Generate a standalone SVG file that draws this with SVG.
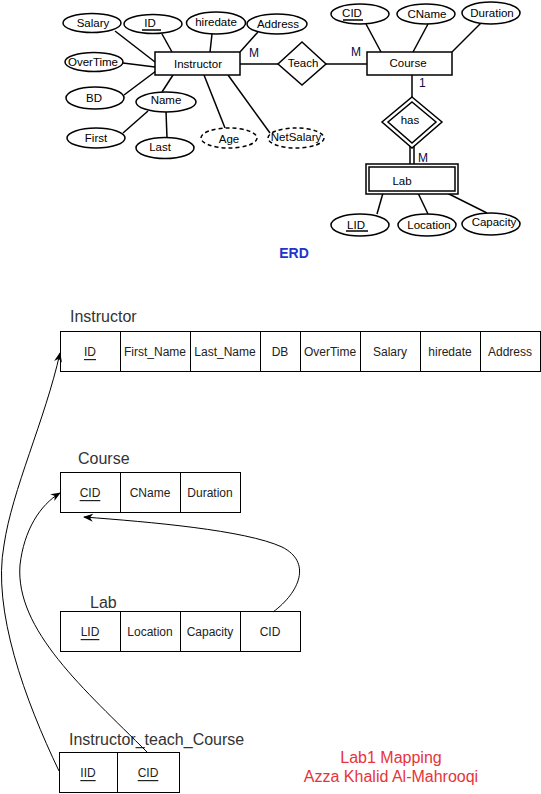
<svg xmlns="http://www.w3.org/2000/svg" width="541" height="794" viewBox="0 0 541 794">
<style>
.e{fill:#fff;stroke:#000;stroke-width:1.5}
.d{fill:#fff;stroke:#000;stroke-width:1.5;stroke-dasharray:4 3}
.l{stroke:#000;stroke-width:1.5;fill:none}
.t{font-family:"Liberation Sans",Arial,sans-serif;font-size:11.5px;fill:#000;text-anchor:middle;dominant-baseline:central}
.card{font-family:"Liberation Sans",Arial,sans-serif;font-size:12px;fill:#0a0a40}
.cell{fill:#fff;stroke:#000;stroke-width:1}
.ct{font-family:"Liberation Sans",Arial,sans-serif;font-size:12px;fill:#222;text-anchor:middle;dominant-baseline:central}
.u{text-decoration:underline}
.title{font-family:"Liberation Sans",Arial,sans-serif;font-size:16px;fill:#333}
.c{stroke:#000;stroke-width:1;fill:none}
.red{font-family:"Liberation Sans",Arial,sans-serif;font-size:16px;fill:#e8333a;text-anchor:middle}
</style>
<defs>
<marker id="arr" markerWidth="10" markerHeight="10" refX="9" refY="5" orient="auto" markerUnits="userSpaceOnUse">
<path d="M0,1 L10,5 L0,9 L3,5 z" fill="#000"/>
</marker>
</defs>

<g id="erd-lines">
<line class="l" x1="115" y1="31" x2="155" y2="62"/>
<line class="l" x1="162" y1="34" x2="172" y2="52"/>
<line class="l" x1="212" y1="34" x2="210" y2="52"/>
<line class="l" x1="258" y1="32" x2="240" y2="52"/>
<line class="l" x1="123" y1="63" x2="155" y2="67"/>
<line class="l" x1="124" y1="95" x2="156" y2="71"/>
<line class="l" x1="162" y1="92" x2="173" y2="75"/>
<line class="l" x1="148" y1="111" x2="123" y2="133"/>
<line class="l" x1="166" y1="111" x2="167" y2="138"/>
<line class="l" x1="204" y1="75" x2="225" y2="128"/>
<line class="l" x1="228" y1="75" x2="270" y2="133"/>
<line class="l" x1="240" y1="64" x2="278" y2="64"/>
<line class="l" x1="326" y1="64" x2="367" y2="64"/>
<line class="l" x1="366" y1="24" x2="381" y2="52"/>
<line class="l" x1="428" y1="24" x2="413" y2="52"/>
<line class="l" x1="481" y1="23" x2="452" y2="52"/>
<line class="l" x1="412" y1="75" x2="412" y2="97"/>
<line class="l" x1="410" y1="146" x2="410" y2="165"/>
<line class="l" x1="414" y1="146" x2="414" y2="165"/>
<line class="l" x1="383" y1="193" x2="377" y2="214"/>
<line class="l" x1="418" y1="193" x2="428" y2="214"/>
<line class="l" x1="447" y1="193" x2="487" y2="213"/>
</g>

<g id="Instructor-entity"><rect class="e" x="155" y="52" width="85" height="23"/><text class="t" x="198" y="64">Instructor</text></g>
<g id="Salary-attr"><ellipse class="e" cx="92" cy="23" rx="29" ry="9.5"/><text class="t" x="93" y="23">Salary</text></g>
<g id="ID-attr"><ellipse class="e" cx="153" cy="24" rx="29" ry="9.5"/><text class="t" x="150" y="23">ID</text><line class="l" x1="142" y1="30" x2="161" y2="30"/></g>
<g id="hiredate-attr"><ellipse class="e" cx="216" cy="23" rx="29.5" ry="11"/><text class="t" x="216" y="22">hiredate</text></g>
<g id="Address-attr"><ellipse class="e" cx="277" cy="24" rx="30" ry="10"/><text class="t" x="278" y="24">Address</text></g>
<g id="OverTime-attr"><ellipse class="e" cx="94" cy="62" rx="29" ry="9.5"/><text class="t" x="93" y="62">OverTime</text></g>
<g id="BD-attr"><ellipse class="e" cx="95" cy="98" rx="29" ry="11"/><text class="t" x="94" y="98">BD</text></g>
<g id="Name-attr"><ellipse class="e" cx="166" cy="102" rx="30" ry="10"/><text class="t" x="166" y="100">Name</text></g>
<g id="First-attr"><ellipse class="e" cx="96" cy="138" rx="29" ry="10"/><text class="t" x="96" y="138">First</text></g>
<g id="Last-attr"><ellipse class="e" cx="165" cy="148" rx="29" ry="10.5"/><text class="t" x="160" y="147">Last</text></g>
<g id="Age-attr"><ellipse class="d" cx="229" cy="138" rx="28" ry="10"/><text class="t" x="229" y="139">Age</text></g>
<g id="NetSalary-attr"><ellipse class="d" cx="296" cy="138" rx="28" ry="10"/><text class="t" x="296" y="137">NetSalary</text></g>
<g id="Teach-rel"><polygon class="e" points="302,42 326,64 302,85 278,64"/><text class="t" x="303" y="63">Teach</text></g>
<g id="Course-entity"><rect class="e" x="367" y="52" width="85" height="23"/><text class="t" x="408" y="63">Course</text></g>
<g id="CID-attr"><ellipse class="e" cx="360" cy="14" rx="29" ry="10"/><text class="t" x="352" y="13">CID</text><line class="l" x1="343" y1="20" x2="363" y2="20"/></g>
<g id="CName-attr"><ellipse class="e" cx="426" cy="14" rx="29" ry="10"/><text class="t" x="427" y="14">CName</text></g>
<g id="Duration-attr"><ellipse class="e" cx="491" cy="13" rx="29" ry="11"/><text class="t" x="492" y="13">Duration</text></g>
<g id="has-rel"><polygon class="e" points="412,97 442,122 412,148 382,122"/><polygon class="l" points="412,102 436,122 412,143 388,122"/><text class="t" x="410" y="120">has</text></g>
<g id="Lab-entity"><rect class="e" x="366" y="164" width="92" height="30"/><rect class="l" x="369" y="167" width="86" height="24"/><text class="t" x="402" y="181">Lab</text></g>
<g id="LID-attr"><ellipse class="e" cx="360" cy="225" rx="29" ry="11"/><text class="t" x="356" y="225">LID</text><line class="l" x1="346" y1="231" x2="368" y2="231"/></g>
<g id="Location-attr"><ellipse class="e" cx="427" cy="225" rx="29" ry="11"/><text class="t" x="429" y="225">Location</text></g>
<g id="Capacity-attr"><ellipse class="e" cx="491" cy="224" rx="29" ry="11"/><text class="t" x="494" y="222">Capacity</text></g>
<g id="cardinalities">
<text class="card" x="249" y="57">M</text>
<text class="card" x="351" y="56">M</text>
<text class="card" x="419" y="87">1</text>
<text class="card" x="418" y="162">M</text>
</g>
<text x="294" y="258" font-family="Liberation Sans,Arial,sans-serif" font-size="14" font-weight="bold" fill="#2233cc" text-anchor="middle">ERD</text>

<g id="Instructor-table">
<text class="title" x="70" y="322">Instructor</text>
<rect class="cell" x="60.5" y="331.5" width="480" height="40"/>
<path class="c" d="M120.5,331.5V371.5M190.5,331.5V371.5M260.5,331.5V371.5M300.5,331.5V371.5M360.5,331.5V371.5M420.5,331.5V371.5M480.5,331.5V371.5"/>
<text class="ct u" x="90" y="352">ID</text>
<text class="ct" x="155" y="352">First_Name</text>
<text class="ct" x="225" y="352">Last_Name</text>
<text class="ct" x="280" y="352">DB</text>
<text class="ct" x="330" y="352">OverTime</text>
<text class="ct" x="390" y="352">Salary</text>
<text class="ct" x="450" y="352">hiredate</text>
<text class="ct" x="510" y="352">Address</text>
</g>

<g id="Course-table">
<text class="title" x="78" y="464">Course</text>
<rect class="cell" x="60.5" y="472.5" width="180" height="40"/>
<path class="c" d="M120.5,472.5V512.5M180.5,472.5V512.5"/>
<text class="ct u" x="90" y="493">CID</text>
<text class="ct" x="150" y="493">CName</text>
<text class="ct" x="210" y="493">Duration</text>
</g>

<g id="Lab-table">
<text class="title" x="90" y="608">Lab</text>
<rect class="cell" x="60.5" y="611.5" width="240" height="40"/>
<path class="c" d="M120.5,611.5V651.5M180.5,611.5V651.5M240.5,611.5V651.5"/>
<text class="ct u" x="90" y="632">LID</text>
<text class="ct" x="150" y="632">Location</text>
<text class="ct" x="210" y="632">Capacity</text>
<text class="ct" x="270" y="632">CID</text>
</g>

<g id="Instructor_teach_Course-table">
<text class="title" x="69" y="745">Instructor_teach_Course</text>
<rect class="cell" x="59.5" y="752.5" width="120" height="40"/>
<path class="c" d="M117.5,752.5V792.5"/>
<text class="ct u" x="88" y="773">IID</text>
<text class="ct u" x="148" y="773">CID</text>
</g>

<g id="connectors">
<path class="c" d="M59,771 C 25,700 -8,610 4,545 C 12,490 45,420 60,353" marker-end="url(#arr)"/>
<path class="c" d="M147,752 C 85,690 15,630 20,565 C 24,530 40,505 60,493" marker-end="url(#arr)"/>
<path class="c" d="M273,612 C 300,592 312,562 282,547 C 245,530 150,522 84,517" marker-end="url(#arr)"/>
</g>

<text class="red" x="391" y="763">Lab1 Mapping</text>
<text class="red" x="391" y="782">Azza Khalid Al-Mahrooqi</text>
</svg>
